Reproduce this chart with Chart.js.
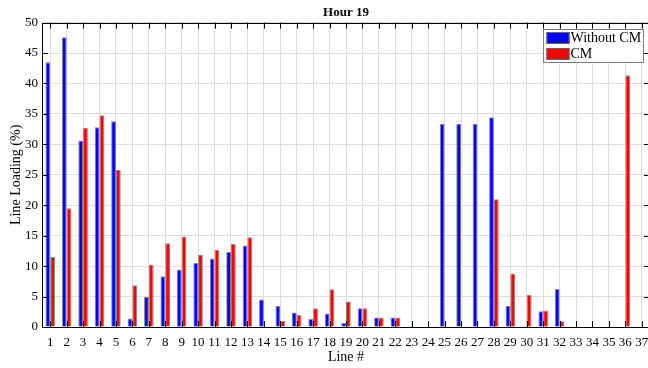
<!DOCTYPE html>
<html>
<head>
<meta charset="utf-8">
<script src="https://cdn.jsdelivr.net/npm/chart.js@4/dist/chart.umd.min.js"></script>
<style>
  html, body { margin: 0; padding: 0; background: #fff; overflow: hidden; }
  canvas { display: block; }
</style>
</head>
<body>
<canvas id="c" width="652" height="368"></canvas>
<script>
// Line numbers shown on the x axis
const lineLabels = ['1','2','3','4','5','6','7','8','9','10','11','12','13','14','15','16','17','18','19',
  '20','21','22','23','24','25','26','27','28','29','30','31','32','33','34','35','36','37'];

// Line loading (%) at hour 19 without congestion management
const loadingWithoutCM = [43.5, 47.6, 30.65, 32.8, 33.8, 1.4, 4.95, 8.35, 9.45, 10.5, 11.25, 12.3, 13.4,
  4.5, 3.45, 2.4, 1.3, 2.2, 0.65, 3.1, 1.55, 1.55, 0, 0, 33.35, 33.35, 33.35, 34.45, 3.45, 0,
  2.58, 6.25, 0, 0, 0, 0, 0];

// Line loading (%) at hour 19 with congestion management
const loadingCM = [11.5, 19.5, 32.7, 34.8, 25.8, 6.85, 10.25, 13.75, 14.85, 11.85, 12.7, 13.65, 14.75,
  0, 1.0, 2.0, 3.1, 6.2, 4.2, 3.1, 1.55, 1.55, 0, 0, 0, 0, 0, 21.0, 8.8, 5.27, 2.7, 0.95,
  0, 0, 0, 41.35, 0];

const yTickStep = 5;
const yMax = 50;

const SERIF = "'Liberation Serif', 'Times New Roman', serif";
Chart.defaults.font.family = SERIF;
Chart.defaults.font.size = 13;
Chart.defaults.color = '#000';

// Axes box with inward tick marks on all four sides
const boxTicks = {
  id: 'boxTicks',
  afterDatasetsDraw(chart) {
    const { ctx, chartArea: a, scales: { x, y } } = chart;
    const len = 6;
    ctx.save();
    ctx.strokeStyle = '#000';
    ctx.lineWidth = 1;
    ctx.beginPath();
    x.ticks.forEach((t, i) => {
      const px = Math.round(x.getPixelForTick(i)) + 0.5;
      ctx.moveTo(px, a.bottom); ctx.lineTo(px, a.bottom - len);
      ctx.moveTo(px, a.top); ctx.lineTo(px, a.top + len);
    });
    y.ticks.forEach((t, i) => {
      const py = Math.round(y.getPixelForTick(i)) + 0.5;
      ctx.moveTo(a.left, py); ctx.lineTo(a.left + len, py);
      ctx.moveTo(a.right, py); ctx.lineTo(a.right - len, py);
    });
    ctx.stroke();
    ctx.strokeRect(Math.round(a.left) + 0.5, Math.round(a.top) + 0.5,
      Math.round(a.right - a.left), Math.round(a.bottom - a.top));
    ctx.restore();
  }
};

// Legend box in the upper right corner of the axes
const cornerLegend = {
  id: 'cornerLegend',
  afterDatasetsDraw(chart) {
    const { ctx, chartArea: a } = chart;
    const w = 100, h = 33;
    const x0 = Math.round(a.right) - 106.5, y0 = Math.round(a.top) + 6.5;
    ctx.save();
    ctx.fillStyle = '#fff';
    ctx.fillRect(x0, y0, w, h);
    ctx.strokeStyle = '#7a7a7a';
    ctx.lineWidth = 1;
    ctx.strokeRect(x0, y0, w, h);
    ctx.font = '14px ' + SERIF;
    ctx.textBaseline = 'middle';
    ctx.textAlign = 'left';
    chart.data.datasets.forEach((ds, i) => {
      const sy = y0 + 2.5 + i * 16;
      ctx.fillStyle = ds.backgroundColor;
      ctx.fillRect(x0 + 3, sy, 23, 12);
      ctx.strokeStyle = '#666';
      ctx.strokeRect(x0 + 3.5, sy + 0.5, 22, 11);
      ctx.fillStyle = '#000';
      ctx.fillText(ds.label, x0 + 27, sy + 6.5);
    });
    ctx.restore();
  }
};

new Chart(document.getElementById('c'), {
  type: 'bar',
  data: {
    labels: lineLabels,
    datasets: [
      {
        label: 'Without CM',
        data: loadingWithoutCM,
        backgroundColor: '#0000ff',
        borderColor: 'rgba(90,90,110,0.75)',
        borderWidth: 1,
        borderSkipped: 'start',
        categoryPercentage: 0.58,
        barPercentage: 1.0
      },
      {
        label: 'CM',
        data: loadingCM,
        backgroundColor: '#ff0000',
        borderColor: 'rgba(110,90,90,0.75)',
        borderWidth: 1,
        borderSkipped: 'start',
        categoryPercentage: 0.58,
        barPercentage: 1.0
      }
    ]
  },
  options: {
    responsive: false,
    animation: false,
    devicePixelRatio: 1,
    layout: { padding: { top: 0, right: 2, bottom: 0, left: 0 } },
    plugins: {
      legend: { display: false },
      tooltip: { enabled: false },
      title: {
        display: true,
        text: 'Hour 19',
        fullSize: false,
        color: '#000',
        font: { family: SERIF, size: 13, weight: 'bold' },
        padding: { top: 5, bottom: 2 }
      }
    },
    scales: {
      x: {
        offset: true,
        grid: { offset: false, color: '#dcdcdc', lineWidth: 1, drawTicks: false },
        border: { display: false },
        ticks: { autoSkip: false, maxRotation: 0, padding: 8, color: '#000' },
        title: { display: true, text: 'Line #', color: '#000', font: { size: 14 }, padding: { top: 0, bottom: 2 } },
        afterFit(s) { s.height = 41; s.paddingLeft = 0; s.paddingRight = 0; }
      },
      y: {
        min: 0,
        max: yMax,
        grid: { color: '#dcdcdc', lineWidth: 1, drawTicks: false },
        border: { display: false },
        ticks: { stepSize: yTickStep, padding: 4, color: '#000' },
        title: { display: true, text: 'Line Loading (%)', color: '#000', font: { size: 14 }, padding: { top: 8, bottom: 0 } },
        afterFit(s) { s.width = 42; }
      }
    }
  },
  plugins: [boxTicks, cornerLegend]
});
</script>
</body>
</html>
